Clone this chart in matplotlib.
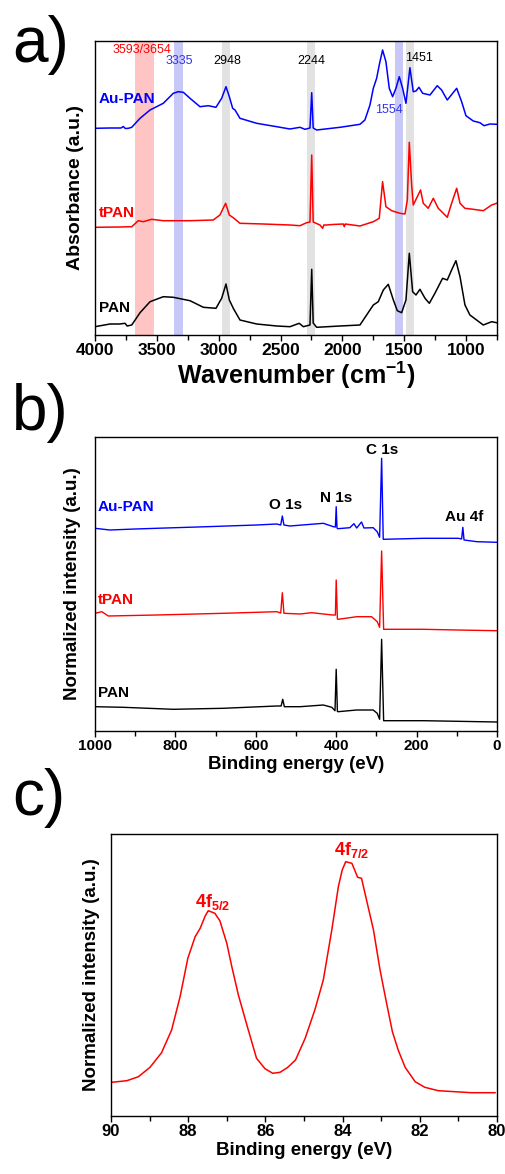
import matplotlib
matplotlib.use("Agg")
import matplotlib.pyplot as plt
from matplotlib.ticker import MultipleLocator

plt.rcParams['font.family'] = ['Liberation Sans', 'DejaVu Sans']
plt.rcParams['mathtext.fontset'] = 'custom'
plt.rcParams['mathtext.rm'] = 'Liberation Sans'
plt.rcParams['mathtext.bf'] = 'Liberation Sans:bold'
plt.rcParams['mathtext.default'] = 'bf'

# ---------------- Panel a: FTIR ----------------
ftir_wn_au = [4000, 3879, 3790, 3771, 3755, 3730, 3703, 3636, 3555, 3448, 3367, 3327, 3286, 3232, 3151,
              3084, 3022, 2976, 2941, 2914, 2887, 2868, 2828, 2693, 2531, 2424, 2343, 2302, 2262, 2248,
              2236, 2208, 2019, 1858, 1818, 1777, 1750, 1723, 1702, 1675, 1648, 1621, 1594, 1567, 1540,
              1513, 1486, 1454, 1427, 1405, 1381, 1351, 1292, 1233, 1198, 1152, 1076, 1036, 1001, 942,
              888, 855, 807, 753]
ftir_au = [206.7, 207, 207, 208.5, 206.5, 206.7, 207.7, 216.7, 225, 231.7, 241.7, 243.3, 242.7, 236.7, 228.3,
           229.3, 227.7, 236.7, 248.3, 238.3, 226.7, 225, 216.7, 211.7, 208.3, 206, 207.7, 205.7, 207, 242.3,
           207, 205, 207.7, 210.7, 215, 230, 246.7, 256.7, 270, 285, 273.3, 246.7, 238.3, 246.7, 258.3,
           246.7, 231.7, 267.3, 243.3, 244, 247.7, 241.7, 240, 249.3, 245, 235, 246.7, 233.3, 219.3, 214,
           212.3, 209.3, 211, 210.7]

ftir_wn_t = [4000, 3800, 3703, 3650, 3610, 3542, 3448, 3232, 3044, 2990, 2944, 2914, 2876, 2828, 2639,
             2424, 2343, 2289, 2262, 2248, 2236, 2200, 2181, 2160, 2150, 2127, 2080, 1993, 1985, 1977,
             1858, 1750, 1702, 1675, 1648, 1602, 1535, 1494, 1475, 1459, 1440, 1427, 1368, 1346, 1306,
             1265, 1225, 1184, 1152, 1117, 1076, 1049, 1009, 942, 861, 793, 753]
ftir_t = [107.7, 108, 108.3, 114.3, 113.3, 115.7, 114.3, 114.3, 115, 120, 131.7, 120, 116.7, 111.7, 111,
          110, 109.3, 112.3, 113, 180, 113, 111, 110, 106.7, 110, 110, 110.5, 111, 108.3, 111,
          109, 113.3, 116.7, 153.3, 128.3, 124.3, 121.7, 121, 135, 192.7, 150, 130, 145, 131.7, 126.7,
          136.7, 126.7, 121.7, 117.7, 131.7, 146.7, 131.7, 126.7, 125.7, 124.3, 130, 131.7]

ftir_wn_pan = [4000, 3879, 3800, 3757, 3740, 3703, 3636, 3555, 3448, 3367, 3232, 3124, 3022, 2976, 2941,
               2914, 2882, 2828, 2693, 2531, 2424, 2349, 2316, 2262, 2248, 2236, 2208, 2019, 1858, 1804,
               1750, 1710, 1669, 1629, 1588, 1556, 1521, 1486, 1459, 1432, 1405, 1373, 1332, 1297, 1252,
               1190, 1152, 1117, 1082, 1049, 1009, 969, 915, 861, 793, 753]
ftir_pan = [8.3, 11, 11, 11.7, 9, 10, 22.3, 33.3, 38.3, 37.7, 34.3, 27.7, 26.7, 36.7, 51,
            35, 26.7, 15, 11, 9, 8.3, 11.7, 8.3, 10, 65.7, 12, 7.7, 9, 10, 20,
            30, 33.3, 45, 50.7, 35, 24.3, 22.3, 35, 81.7, 43.3, 40, 45.7, 36.7, 31.7, 41.7,
            56.7, 55, 65, 74.3, 58.3, 30, 20, 15, 10, 13.3, 12.3]

band_lo = [3520, 3289, 2909, 2221, 1510, 1421]
band_hi = [3680, 3361, 2973, 2286, 1575, 1486]
band_colors = ['#FFC4C4', '#C8C8F8', '#E2E2E2', '#E2E2E2', '#C8C8F8', '#E2E2E2']

peak_labels = ['3593/3654', '3335', '2948', '2244', '1451', '1554']
peak_label_x = [3620, 3321, 2933, 2254, 1381, 1623]
peak_label_y = [285, 274, 274, 274, 277, 225]
peak_label_colors = ['red', '#3333EE', 'black', 'black', 'black', '#3333EE']

# ---------------- Panel b: XPS survey ----------------
xps_be_au = [1000, 963, 900, 847, 722, 598, 548, 538, 534, 530, 515, 432, 407, 402, 400, 398, 396, 366,
             356, 349, 337, 331, 308, 298, 292, 287, 283, 183, 96, 88, 85, 82, 50, 0]
xps_au = [202.7, 201, 202, 202.7, 204.3, 206, 207, 206, 215, 206, 205, 207.7, 204.3, 204, 224.3, 203, 202.3, 203.3,
          207.3, 203, 209, 203, 203.3, 199.3, 193.7, 272.7, 191.7, 192.7, 192.7, 192, 203.7, 191, 189.3, 188.7]

xps_be_t = [1000, 983, 967, 847, 681, 548, 538, 534, 530, 490, 461, 409, 402, 400, 397, 395, 349, 312,
            298, 292, 287, 282, 183, 100, 0]
xps_t = [117.7, 119.3, 115, 116, 117.7, 119.3, 118, 138.3, 117.7, 117, 118.3, 116, 116, 151, 112, 111.7, 114.3, 114.3,
         109.3, 103.7, 180, 101.7, 101.7, 101, 100.3]

xps_be_pan = [1000, 930, 805, 681, 548, 537, 533, 529, 490, 432, 411, 403, 400, 397, 395, 349, 308, 298,
              292, 287, 282, 183, 0]
xps_pan = [24.3, 23.7, 21.7, 22.7, 25, 25, 31.7, 24.3, 24.3, 26, 23.7, 20.3, 61.7, 19.5, 19.3, 21, 21, 17.7,
           11.7, 91.7, 10.3, 10.3, 9]

xps_labels = ['O 1s', 'N 1s', 'C 1s', 'Au 4f']
xps_label_x = [527, 400, 286, 82]
xps_label_y = [226, 233, 281, 214]

# ---------------- Panel c: Au 4f ----------------
au4f_be = [89.98, 89.59, 89.29, 88.99, 88.69, 88.43, 88.21, 88.01, 87.82, 87.69, 87.56, 87.48, 87.31, 87.18,
           87.00, 86.87, 86.70, 86.48, 86.23, 86.01, 85.81, 85.62, 85.42, 85.22, 84.97, 84.72, 84.50, 84.28,
           84.11, 84.01, 83.92, 83.76, 83.61, 83.51, 83.38, 83.20, 83.03, 82.86, 82.71, 82.56, 82.38, 82.12,
           81.87, 81.52, 81.09, 80.66, 80.05]
au4f_int = [33.7, 35.3, 39.3, 48.7, 63.3, 86, 119.3, 157.7, 179.3, 187.7, 200, 205.3, 202.7, 195.3,
            172.7, 149.3, 121, 91, 57.7, 47.3, 42.7, 43.7, 48.7, 56, 77.7, 106, 136, 186,
            229.3, 246, 254.3, 252.7, 238.7, 237.7, 216, 186, 146, 112.7, 84.3, 66, 48.7, 34.3,
            28.7, 25.3, 24.3, 23.3, 23.3]

W, H = 506, 1174
fig = plt.figure(figsize=(W / 100, H / 100), dpi=100)


def rect(l, t, r, b):
    return [l / W, 1 - b / H, (r - l) / W, (b - t) / H]


def style(ax, major, minor, size):
    for s in ax.spines.values():
        s.set_linewidth(1.0)
    ax.set_yticks([])
    ax.xaxis.set_major_locator(MultipleLocator(major))
    ax.xaxis.set_minor_locator(MultipleLocator(minor))
    ax.tick_params(axis='x', which='major', direction='out', length=4, width=1.0, labelsize=size, pad=2)
    ax.tick_params(axis='x', which='minor', direction='out', length=3.5, width=1.0)
    for lab in ax.get_xticklabels():
        lab.set_fontweight('bold')


# Panel a
axa = fig.add_axes(rect(95, 41, 497, 335))
for lo, hi, c in zip(band_lo, band_hi, band_colors):
    axa.axvspan(lo, hi, color=c, lw=0, zorder=0)
axa.plot(ftir_wn_au, ftir_au, color='blue', lw=1.1)
axa.plot(ftir_wn_t, ftir_t, color='red', lw=1.1)
axa.plot(ftir_wn_pan, ftir_pan, color='black', lw=1.1)
axa.set_xlim(4000, 750)
axa.set_ylim(0, 294)
style(axa, 500, 250, 12.5)
axa.set_xticks([4000, 3500, 3000, 2500, 2000, 1500, 1000])
for lab in axa.get_xticklabels():
    lab.set_fontweight('bold')
for t, x, y, c in zip(peak_labels, peak_label_x, peak_label_y, peak_label_colors):
    axa.text(x, y, t, color=c, fontsize=9, ha='center', va='center')
axa.text(3968, 236, 'Au-PAN', color='blue', fontsize=11, fontweight='bold', va='center')
axa.text(3968, 122, 'tPAN', color='red', fontsize=11, fontweight='bold', va='center')
axa.text(3968, 27, 'PAN', color='black', fontsize=11, fontweight='bold', va='center')
axa.set_xlabel('Wavenumber (cm$^{-1}$)', fontsize=18, fontweight='bold', labelpad=1)
axa.set_ylabel('Absorbance (a.u.)', fontsize=14, fontweight='bold', labelpad=8)
fig.text(12 / W, 1 - 62 / H, 'a)', fontsize=46, va='baseline')

# Panel b
axb = fig.add_axes(rect(95, 437, 497, 731))
axb.plot(xps_be_au, xps_au, color='blue', lw=1.0)
axb.plot(xps_be_t, xps_t, color='red', lw=1.0)
axb.plot(xps_be_pan, xps_pan, color='black', lw=1.0)
axb.set_xlim(1000, 0)
axb.set_ylim(0, 294)
style(axb, 200, 100, 11)
for t, x, y in zip(xps_labels, xps_label_x, xps_label_y):
    axb.text(x, y, t, color='black', fontsize=11, fontweight='bold', ha='center', va='center')
axb.text(993, 224, 'Au-PAN', color='blue', fontsize=11, fontweight='bold', va='center')
axb.text(993, 131, 'tPAN', color='red', fontsize=11, fontweight='bold', va='center')
axb.text(993, 38, 'PAN', color='black', fontsize=11, fontweight='bold', va='center')
axb.set_xlabel('Binding energy (eV)', fontsize=13.5, fontweight='bold', labelpad=2)
axb.set_ylabel('Normalized intensity (a.u.)', fontsize=13.5, fontweight='bold', labelpad=10)
fig.text(12 / W, 1 - 430 / H, 'b)', fontsize=46, va='baseline')

# Panel c
axc = fig.add_axes(rect(111, 834, 497, 1116))
axc.plot(au4f_be, au4f_int, color='red', lw=1.1)
axc.set_xlim(90, 80)
axc.set_ylim(0, 282)
style(axc, 2, 1, 12)
axc.text(87.36, 209, '4f$_{5/2}$', color='red', fontsize=13, fontweight='bold', ha='center', va='baseline')
axc.text(83.76, 261, '4f$_{7/2}$', color='red', fontsize=13, fontweight='bold', ha='center', va='baseline')
axc.set_xlabel('Binding energy (eV)', fontsize=13.5, fontweight='bold', labelpad=2)
axc.set_ylabel('Normalized intensity (a.u.)', fontsize=13.5, fontweight='bold', labelpad=8)
fig.text(12 / W, 1 - 815 / H, 'c)', fontsize=46, va='baseline')

fig.savefig('out.png', dpi=100)
